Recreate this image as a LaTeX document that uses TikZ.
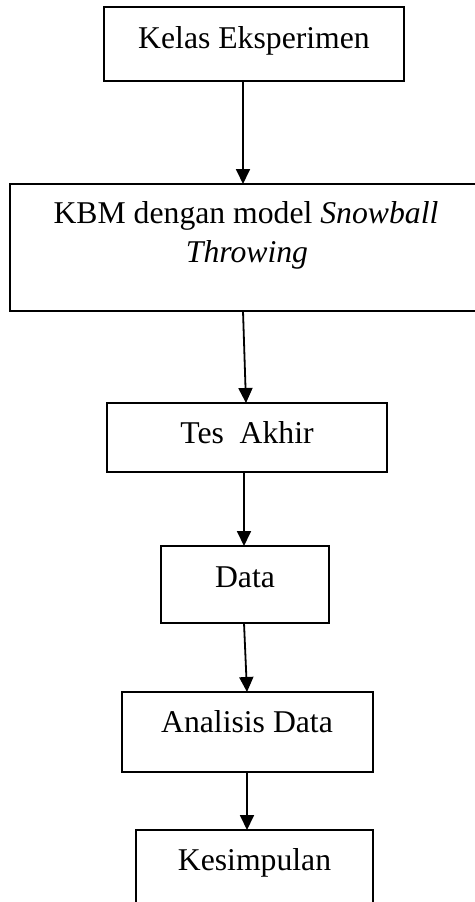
\documentclass[tikz,border=0pt]{standalone}
\usepackage{fontspec}
\setmainfont{Liberation Serif}
\usetikzlibrary{arrows.meta}
\begin{document}
\begin{tikzpicture}[x=1pt,y=-1pt,
  box/.style={draw,line width=1.3pt,rectangle,inner sep=0pt,outer sep=0pt},
  lbl/.style={inner sep=0pt,anchor=base,font=\fontsize{31.7}{40}\selectfont},
  arr/.style={line width=1.8pt,-{Triangle[width=14pt,length=15pt]}}]
\useasboundingbox (0,0) rectangle (474,902);
\fill[white] (0,0) rectangle (474,902);
\node[box,minimum width=300pt,minimum height=74pt] (b1) at (254,44) {};
\node[box,minimum width=472pt,minimum height=127pt] (b2) at (246,247.5) {};
\node[box,minimum width=280pt,minimum height=69pt] (b3) at (247,437.5) {};
\node[box,minimum width=168pt,minimum height=77pt] (b4) at (245,584.5) {};
\node[box,minimum width=251pt,minimum height=80pt] (b5) at (247.5,732) {};
\node[box,minimum width=237pt,minimum height=82pt] (b6) at (254.5,871) {};
\node[lbl] (t1) at (254,48) {Kelas Eksperimen};
\node[lbl] (t2a) at (246,223) {KBM dengan model \textit{Snowball}};
\node[lbl] (t2b) at (247,262) {\textit{Throwing}};
\node[lbl] (t3) at (247,443) {Tes\ \ Akhir};
\node[lbl] (t4) at (245,587) {Data};
\node[lbl] (t5) at (247,732) {Analisis Data};
\node[lbl] (t6) at (254.5,870) {Kesimpulan};
\coordinate (x243) at (243,0);
\coordinate (x244) at (244,0);
\coordinate (x246) at (246,0);
\coordinate (x247) at (247,0);
\draw[arr] (b1.south -| x243) -- (b2.north -| x243);
\draw[arr] (b2.south -| x243) -- (b3.north -| x246);
\draw[arr] (b3.south -| x244) -- (b4.north -| x244);
\draw[arr] (b4.south -| x244) -- (b5.north -| x247);
\draw[arr] (b5.south -| x247) -- (b6.north -| x247);
\end{tikzpicture}
\end{document}
